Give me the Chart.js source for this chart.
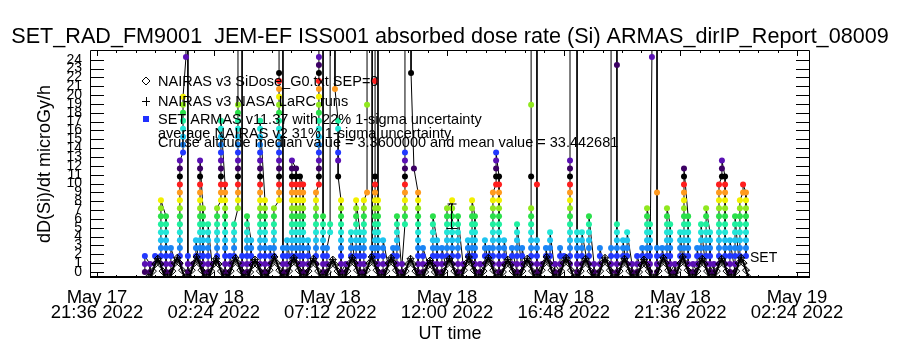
<!DOCTYPE html>
<html lang="en">
<head>
<meta charset="UTF-8">
<title>SET_RAD_FM9001 JEM-EF ISS001 absorbed dose rate</title>
<script src="https://cdn.jsdelivr.net/npm/chart.js"></script>
<style>
  html, body { margin: 0; padding: 0; background: #fff; }
</style>
</head>
<body>
<canvas id="chart" width="900" height="350"></canvas>
<script>
// x values are hours after May 17 21:36 UT
const xTickHours = [0, 4.8, 9.6, 14.4, 19.2, 24, 28.8];
const xTickLabels = [
  ['May 17', '21:36 2022'], ['May 18', '02:24 2022'], ['May 18', '07:12 2022'],
  ['May 18', '12:00 2022'], ['May 18', '16:48 2022'], ['May 18', '21:36 2022'],
  ['May 19', '02:24 2022']
];
const yTicks = [0,1,2,3,4,5,6,7,8,9,10,11,12,13,14,15,16,17,18,19,20,21,22,23,24];

// SET ARMAS readings, grouped by sample time (hours); 30 = off scale
const armasTime = [
  1.97,2.18,2.39,2.63,2.84,3.04,3.25,3.41,3.54,3.66,
  3.74,3.95,4.07,4.24,4.36,4.57,4.73,4.94,5.10,5.27,
  5.47,5.64,5.80,5.97,6.17,6.34,6.54,6.71,6.91,7.12,
  7.28,7.49,7.65,7.82,8.02,8.19,8.35,8.48,8.68,8.85,
  9.01,9.13,9.30,9.46,9.59,9.79,9.92,10.04,10.24,10.45,
  10.66,10.82,10.98,11.11,11.32,11.44,11.56,11.77,11.97,12.18,
  12.34,12.55,12.67,12.92,13.04,13.21,13.41,13.62,13.82,13.99,
  14.19,14.40,14.61,14.85,15.06,15.26,15.43,15.55,15.76,15.96,
  16.13,16.29,16.42,16.54,16.75,16.91,17.07,17.28,17.49,17.69,
  17.86,18.10,18.31,18.47,18.64,18.84,19.05,19.21,19.46,19.75,
  19.95,20.24,20.45,20.69,20.90,21.15,21.39,21.64,21.81,22.01,
  22.22,22.43,22.63,22.75,22.83,23.04,23.25,23.45,23.58,23.78,
  23.99,24.15,24.32,24.52,24.69,24.85,25.06,25.22,25.38,25.59,
  25.71,25.84,26.04,26.25,26.45,26.58,26.70
];
const armasDose = [
  [0,.9,1.8],
  [.9,0],
  [0,.9,1.8],
  [0,.9,1.8,2.7,3.6,4.5,5.4,6.3,7.2,8.1],
  [6.3,5.4,4.5,3.6,2.7,1.8,.9,0],
  [0,.9,1.8,2.7],
  [.9,0],
  [0,.9,1.8,2.7,3.6,4.5,5.4,6.3,7.2,8.1,9,9.9,10.8,11.7,12.6],
  [13.5,14.4,15.3,16.2,17.1,18,18.9,19.8],
  [24.3,30],
  [30,1.8,.9,0],
  [0,.9],
  [0,.9,1.8,2.7,3.6],
  [0,.9,1.8,2.7,3.6,4.5,5.4,6.3,7.2,8.1,9,9.9,10.8,11.7,12.6],
  [7.2,6.3,5.4,4.5,3.6,2.7,1.8,.9,0],
  [0,.9,1.8,2.7,3.6,4.5,5.4],
  [.9,0],
  [0,.9,1.8,2.7,3.6,4.5,5.4,6.3,7.2],
  [8.1,9,9.9,10.8,11.7,12.6,13.5,14.4,15.3,16.2,17.1],
  [9.9,9,8.1,7.2,6.3,5.4,4.5,3.6,2.7,1.8,.9,0],
  [0,.9,1.8],
  [0,.9,1.8,2.7,3.6,4.5,5.4],
  [7.2,8.1,9,9.9,10.8,11.7,12.6,13.5,14.4,15.3,16.2,17.1,18,18.9,30],
  [30,1.8,.9,0],
  [0,.9,1.8,2.7,3.6,4.5,5.4,6.3],
  [3.6,2.7,1.8,.9,0],
  [.9,0],
  [0,.9,1.8,2.7,3.6,4.5,5.4,6.3,7.2,8.1,9,9.9,10.8,11.7,12.6,13.5,14.4,15.3,16.2,17.1],
  [8.1,7.2,6.3,5.4,4.5,3.6,2.7,1.8,.9,0],
  [0,.9,1.8,2.7],
  [0,.9,1.8,2.7,3.6,4.5,5.4,6.3,7.2],
  [8.1,9,9.9,10.8,11.7,12.6,13.5,14.4,15.3,16.2,17.1,18,18.9,19.8,20.7,21.6,22.5,30],
  [30,2.7,1.8,.9,0],
  [0,.9,1.8,2.7,3.6],
  [0,.9,1.8,2.7,3.6,4.5,5.4,6.3,7.2,8.1,9,9.9,10.8,11.7,12.6],
  [11.7,10.8,9.9,9,8.1,7.2,6.3,5.4,4.5,3.6,2.7,1.8,.9,0],
  [0,.9,1.8,2.7,3.6,4.5,5.4,6.3,7.2,8.1,9,9.9,10.8],
  [9.9,9,8.1,7.2,6.3,5.4,4.5,3.6,2.7,1.8,.9,0],
  [0,.9,1.8,2.7,3.6],
  [0,.9],
  [0,.9,1.8,2.7,3.6,4.5,5.4,6.3,7.2,8.1,9],
  [9.9,10.8,11.7,12.6,13.5,14.4,15.3,16.2,17.1,18,18.9,19.8,20.7,21.6,22.5,23.4,24.3,30],
  [30,6.3,5.4,4.5,3.6,2.7,1.8,.9,0],
  [0,.9,1.8,2.7],
  [4.5,5.4,30],
  [30,20.7],
  [17.1,16.2,13.5,12.6,10.8],
  [8.1,7.2,6.3,5.4,4.5,3.6,2.7,1.8,.9,0],
  [.9,0],
  [0,.9,1.8,2.7,3.6,4.5],
  [0,.9,1.8,2.7,3.6,4.5,5.4,6.3,7.2,8.1],
  [4.5,3.6,2.7,1.8,.9,0],
  [0,.9,1.8,2.7,3.6,4.5,5.4,6.3,7.2,8.1],
  [9,18.9,30],
  [30,2.7,1.8,.9,0],
  [0,.9,1.8,2.7,3.6,4.5,5.4,6.3,7.2,8.1,9,9.9,10.8,21.6,30],
  [30,8.1,7.2,6.3,5.4,4.5,3.6,2.7,1.8,.9,0],
  [0,.9,1.8,2.7,3.6],
  [.9,0],
  [0,.9,1.8,2.7],
  [0,.9,1.8,2.7,3.6,4.5,5.4,6.3],
  [0,.9],
  [5.4,6.3,7.2,8.1,9,9.9,10.8,11.7,12.6,13.5,30],
  [30,22.5],
  [11.7],
  [9,8.1,7.2,6.3,5.4,4.5,3.6,2.7,1.8,.9,0],
  [0,.9,1.8,2.7],
  [.9,0],
  [0,.9,1.8,2.7,3.6,4.5,5.4,6.3],
  [3.6,2.7,1.8,.9,0],
  [0,.9,1.8,2.7],
  [0,.9,1.8,2.7,3.6,4.5,5.4,6.3,7.2],
  [8.1,7.2,6.3,5.4,4.5,3.6,2.7,1.8,.9,0],
  [0,.9,1.8,2.7,3.6,4.5,5.4,6.3],
  [.9,0],
  [0,.9,1.8,2.7,3.6],
  [0,.9,1.8,2.7,3.6,4.5,5.4,6.3,7.2,8.1],
  [6.3,5.4,4.5,3.6,2.7,1.8,.9,0],
  [0,.9],
  [0,.9,1.8,2.7,3.6],
  [0,.9,1.8,2.7],
  [0,.9,1.8,2.7,3.6,4.5,5.4,6.3,7.2,8.1,9],
  [9.9,10.8,11.7,12.6,13.5],
  [10.8,9.9,9,8.1,7.2,6.3,5.4,4.5,3.6,2.7,1.8,.9,0],
  [0,.9,1.8,2.7,3.6],
  [.9,0],
  [0,.9,1.8,2.7],
  [0,.9,1.8,2.7,3.6,4.5,5.4],
  [0,.9,1.8,2.7],
  [0,.9],
  [0,.9,1.8,2.7,3.6,4.5,5.4,6.3,7.2,10.8,18.9,30],
  [30,9.9,3.6,2.7,1.8,.9,0],
  [.9,0],
  [0,.9,1.8,2.7],
  [0,.9,1.8,2.7,3.6,4.5],
  [0,.9],
  [0,.9,1.8,2.7],
  [0,.9,1.8],
  [0,.9,1.8,2.7,3.6,4.5,5.4,6.3,7.2,8.1,9,9.9,10.8,11.7,12.6,30],
  [30,4.5,3.6,2.7,1.8,.9,0],
  [0,.9,1.8,2.7,3.6,4.5],
  [0,.9,1.8,2.7,3.6,4.5,5.4,6.3],
  [.9,0],
  [0,.9,1.8,2.7],
  [0,.9],
  [0,.9,1.8,2.7,30],
  [30,23.4,5.4,4.5,3.6,2.7,1.8,.9,0],
  [0,.9,1.8,2.7,3.6],
  [0,.9,1.8,2.7,3.6,4.5],
  [.9,0],
  [0,.9,1.8],
  [0,.9,1.8,2.7],
  [0,.9,1.8,2.7,3.6,4.5,5.4,6.3,7.2],
  [5.4,4.5,3.6,2.7,1.8,.9,0],
  [24.3,30],
  [30,9,2.7,1.8,.9,0],
  [0,.9,1.8,2.7],
  [0,.9,1.8,2.7,3.6,4.5,5.4,6.3,7.2],
  [5.4,4.5,3.6,2.7,1.8,.9,0],
  [.9,0],
  [0,.9,1.8,2.7,3.6,4.5],
  [0,.9,1.8,2.7,3.6,4.5,5.4,6.3,7.2,8.1,9,9.9,10.8,11.7],
  [6.3,5.4,4.5,3.6,2.7,1.8,.9,0],
  [0,.9],
  [0,.9,1.8,2.7],
  [0,.9,1.8,2.7,3.6,4.5,5.4],
  [0,.9,1.8,2.7,3.6,4.5,5.4,6.3,7.2],
  [4.5,3.6,2.7,1.8,.9,0],
  [.9,0],
  [0,.9,1.8,2.7,3.6,4.5,5.4,6.3,7.2,8.1,9,9.9],
  [10.8,11.7,12.6],
  [10.8,9.9,9,8.1,7.2,6.3,5.4,4.5,3.6,2.7,1.8,.9,0],
  [0,.9,1.8,2.7,3.6],
  [0,.9,1.8,2.7,3.6,4.5,5.4,6.3],
  [0,.9,1.8,2.7,3.6,4.5,5.4,6.3,7.2,8.1],
  [9,9.9],
  [9,8.1,7.2,6.3,5.4,4.5,3.6,2.7,1.8]
];

// NAIRAS model, sampled every 0.1 h from 2.1 h (troughs sit on the lower frame)
const nairasStart = 2.1;
const nairasStep = 0.1;
const nairasSiDose = [
  -.6,-.6,.1,.9,1.5,.9,.1,-.6,   -.6,-.6,.1,1.0,1.6,1.0,.2,-.6,
  -.6,-.6,.2,1.0,1.7,1.0,.2,-.6, -.6,-.6,.1,.9,1.5,.9,.1,-.6,
  -.6,-.6,.1,1.0,1.6,1.0,.2,-.6, -.6,-.6,0,.8,1.4,.8,.1,-.6,
  -.6,-.6,.2,1.0,1.7,1.0,.2,-.6, -.6,-.6,.1,1.0,1.6,1.0,.2,-.6,
  -.6,-.6,.1,.9,1.5,.9,.1,-.6,   -.6,-.6,0,.8,1.4,.8,.1,-.6,
  -.6,-.6,.1,1.0,1.6,1.0,.2,-.6, -.6,-.6,.2,1.0,1.7,1.0,.2,-.6,
  -.6,-.6,.1,1.0,1.6,1.0,.2,-.6, -.6,-.6,.1,.9,1.5,.9,.1,-.6,
  -.6,-.6,0,.7,1.3,.7,0,-.6,     -.6,-.6,.1,.9,1.5,.9,.1,-.6,
  -.6,-.6,.2,1.0,1.7,1.0,.2,-.6, -.6,-.6,.1,1.0,1.6,1.0,.2,-.6,
  -.6,-.6,0,.8,1.4,.8,.1,-.6,    -.6,-.6,.1,.9,1.5,.9,.1,-.6,
  -.6,-.6,.2,1.0,1.7,1.0,.2,-.6, -.6,-.6,.1,1.0,1.6,1.0,.2,-.6,
  -.6,-.6,.1,.9,1.5,.9,.1,-.6,   -.6,-.6,.1,1.0,1.6,1.0,.2,-.6,
  -.6,-.6,.1,.9,1.5,.9,.1,-.6,   -.6,-.6,0,.8,1.4,.8,.1,-.6,
  -.6,-.6,.1,1.0,1.6,1.0,.2,-.6, -.6,-.6,.2,1.0,1.7,1.0,.2,-.6,
  -.6,-.6,.1,.9,1.5,.9,.1,-.6,   -.6,-.6,.1,.9,1.5,.9,.1,-.6,
  -.6,-.6,.1,1.0,1.6,1.0,.2,-.6
];
const nairasLarc = nairasSiDose;

// one ARMAS reading shown with its 22% 1-sigma bar
const errTime = [14.58];
const errDose = [6.3];
const errSigma = 0.22;

const legendText = [
  'NAIRAS v3 SiDose_G0.txt SEP=0',
  'NAIRAS v3 NASA LaRC runs',
  'SET ARMAS v11.37 with 22% 1-sigma uncertainty',
  'average NAIRAS v2 31% 1-sigma uncertainty',
  'Cruise altitude median value = 3.3600000 and mean value = 33.442681'
];

// colour table cycles every 13 dose steps
const levelColors = ['#3c0064','#5a10b4','#2238ff','#1a84f5','#1ec4f0','#22e6d8',
                     '#1ef0a0','#2ae04a','#90e81e','#f2f000','#ff9a1e','#ff1e1e','#000000'];

const FONT = '"Liberation Sans", Arial, sans-serif';
Chart.defaults.font.family = FONT;
Chart.defaults.color = '#000';

const armasPoints = armasTime.flatMap((t, i) => armasDose[i].map(v => ({ x: t, y: v })));
const siPoints = nairasSiDose.map((v, i) => ({ x: nairasStart + i * nairasStep, y: v }));
const larcPoints = nairasLarc.map((v, i) => ({ x: nairasStart + i * nairasStep, y: v }));

const idlFrame = {
  id: 'idlFrame',
  afterDraw(chart) {
    const { ctx, chartArea: a } = chart;
    const xs = chart.scales.x, ys = chart.scales.y;
    ctx.save();
    ctx.strokeStyle = '#000';
    ctx.lineWidth = 1;
    ctx.beginPath();
    ctx.rect(a.left + 0.5, a.top + 0.5, a.width - 1, a.height - 1);
    yTicks.forEach(v => {
      const py = Math.round(ys.getPixelForValue(v)) + 0.5;
      ctx.moveTo(a.left, py); ctx.lineTo(a.left + 14, py);
      ctx.moveTo(a.right, py); ctx.lineTo(a.right - 14, py);
    });
    for (let i = 0; i <= 36; i++) {
      const px = Math.round(xs.getPixelForValue(i * 0.8)) + 0.5;
      const len = i % 6 === 0 ? 6 : 3;
      ctx.moveTo(px, a.top); ctx.lineTo(px, a.top + len);
      ctx.moveTo(px, a.bottom); ctx.lineTo(px, a.bottom - len);
    }
    // error bar
    errTime.forEach((t, i) => {
      const px = Math.round(xs.getPixelForValue(t)) + 0.5;
      const hi = ys.getPixelForValue(errDose[i] * (1 + errSigma));
      const lo = ys.getPixelForValue(errDose[i] * (1 - errSigma));
      ctx.moveTo(px, hi); ctx.lineTo(px, lo);
      ctx.moveTo(px - 4, hi); ctx.lineTo(px + 5, hi);
      ctx.moveTo(px - 5, lo); ctx.lineTo(px + 6, lo);
    });
    ctx.stroke();
    ctx.beginPath();
    ctx.lineWidth = 2;
    ctx.moveTo(a.left, a.bottom - 1); ctx.lineTo(a.right, a.bottom - 1);
    ctx.stroke();

    // legend symbols
    ctx.lineWidth = 1;
    ctx.beginPath();
    ctx.moveTo(146, 77); ctx.lineTo(150, 81); ctx.lineTo(146, 85); ctx.lineTo(142, 81); ctx.closePath();
    ctx.moveTo(142, 101.5); ctx.lineTo(150, 101.5);
    ctx.moveTo(146.5, 97); ctx.lineTo(146.5, 106);
    ctx.stroke();
    ctx.fillStyle = '#2030ff';
    ctx.fillRect(143, 116, 6, 6);

    ctx.fillStyle = '#000';
    ctx.font = '14.5px ' + FONT;
    ctx.textBaseline = 'alphabetic';
    const base = [86, 106, 124, 138, 147];
    legendText.forEach((s, i) => ctx.fillText(s, 158, base[i]));
    ctx.font = '14px ' + FONT;
    ctx.fillText('SET', 750, 262);
    ctx.restore();
  }
};

new Chart(document.getElementById('chart'), {
  type: 'line',
  data: {
    datasets: [
      {
        label: 'NAIRAS v3 SiDose_G0.txt SEP=0',
        data: siPoints,
        showLine: true,
        borderColor: '#000',
        borderWidth: 2,
        fill: { value: -0.6 },
        backgroundColor: '#fff',
        tension: 0,
        pointStyle: 'rectRot',
        pointRadius: 3.5,
        pointBorderWidth: 1,
        pointBorderColor: '#000',
        pointBackgroundColor: 'rgba(255,255,255,0)',
        order: 1
      },
      {
        label: 'NAIRAS v3 NASA LaRC runs',
        data: larcPoints,
        showLine: false,
        pointStyle: 'cross',
        pointRadius: 3.5,
        pointBorderWidth: 1,
        pointBorderColor: '#000',
        order: 2
      },
      {
        label: 'SET ARMAS v11.37',
        data: armasPoints,
        borderColor: '#000',
        borderWidth: 1,
        tension: 0,
        pointStyle: 'circle',
        pointRadius: 3,
        pointBorderWidth: 0,
        pointBackgroundColor: c => levelColors[Math.round(c.raw.y / 0.9) % 13],
        order: 3
      }
    ]
  },
  options: {
    responsive: false,
    animation: false,
    plugins: {
      legend: { display: false },
      tooltip: { enabled: false },
      title: {
        display: true,
        text: 'SET_RAD_FM9001  JEM-EF ISS001 absorbed dose rate (Si) ARMAS_dirIP_Report_08009',
        color: '#000',
        font: { size: 21.6, weight: 'normal', lineHeight: 1 },
        padding: { top: 26, bottom: 2.4 }
      }
    },
    scales: {
      x: {
        type: 'linear',
        min: -0.288,
        max: 29.334,
        grid: { display: false, drawTicks: false },
        border: { display: false },
        afterBuildTicks: s => { s.ticks = xTickHours.map(v => ({ value: v })); },
        afterFit: s => { s.height = 72; },
        ticks: {
          autoSkip: false,
          maxRotation: 0,
          padding: 12,
          font: { size: 18.5, lineHeight: 0.82 },
          callback: (v, i) => xTickLabels[i]
        },
        title: { display: true, text: 'UT time', font: { size: 18 }, padding: { top: 0, bottom: 5 } }
      },
      y: {
        min: -0.68,
        max: 25.1,
        grid: { display: false, drawTicks: false },
        border: { display: false },
        afterBuildTicks: s => { s.ticks = yTicks.map(v => ({ value: v })); },
        afterFit: s => { s.width = 90; },
        ticks: { autoSkip: false, padding: 8, font: { size: 14 } },
        title: { display: true, text: 'dD(Si)/dt microGy/h', font: { size: 18 }, padding: { top: 34, bottom: 0 } }
      },
      yRight: {
        position: 'right',
        grid: { display: false, drawTicks: false },
        border: { display: false },
        ticks: { display: false },
        afterFit: s => { s.width = 90; }
      }
    }
  },
  plugins: [idlFrame]
});
</script>
</body>
</html>
